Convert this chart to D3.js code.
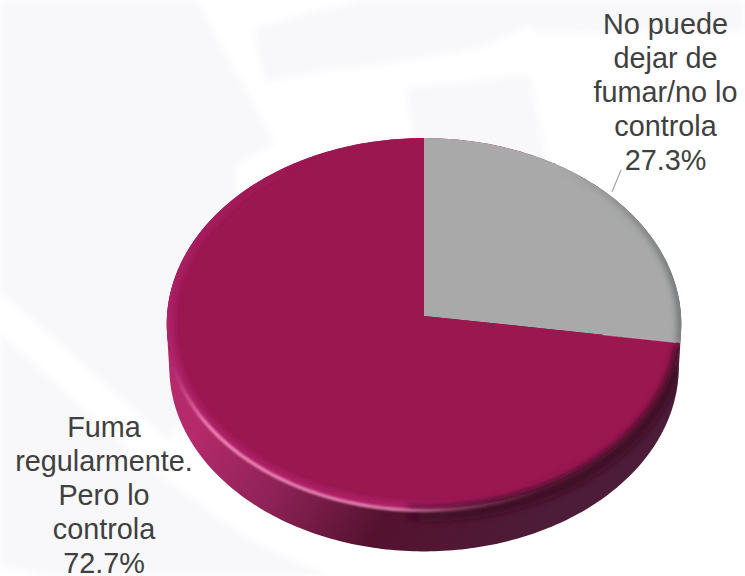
<!DOCTYPE html>
<html><head><meta charset="utf-8">
<script src="https://cdnjs.cloudflare.com/ajax/libs/d3/7.8.5/d3.min.js"></script>
<style>html,body{margin:0;padding:0;background:#fff;overflow:hidden}svg{display:block}</style>
</head><body>
<svg id="c" width="745" height="576"></svg>
<script>
const categories = ["No puede dejar de fumar/no lo controla", "Fuma regularmente. Pero lo controla"];
const values = [27.3, 72.7];
const labelLines = [
  ["No puede", "dejar de", "fumar/no lo", "controla", "27.3%"],
  ["Fuma", "regularmente.", "Pero lo", "controla", "72.7%"]
];
const colors = ["#a9a9a9", "#9a1750"];

const svg = d3.select("#c");
const defs = svg.append("defs");
const blur = (id, s) => defs.append("filter").attr("id", id)
  .attr("filterUnits", "userSpaceOnUse").attr("x", -20).attr("y", -20).attr("width", 785).attr("height", 616)
  .append("feGaussianBlur").attr("stdDeviation", s);
blur("b1", 1.2); blur("b3", 3);

const grad = (id, [x1, y1, x2, y2], stops) => {
  const g = defs.append("linearGradient").attr("id", id).attr("gradientUnits", "userSpaceOnUse")
    .attr("x1", x1).attr("y1", y1).attr("x2", x2).attr("y2", y2);
  stops.forEach(([o, c, a]) => g.append("stop").attr("offset", o).attr("stop-color", c).attr("stop-opacity", a ?? 1));
};
grad("side", [230, 380, 520, 560], [[0, "#b42a6a"], [.28, "#8f2258"], [.6, "#54122f"], [1, "#4d1c38"]]);
grad("hi", [172, 0, 540, 0], [[0, "#f58abb", 0], [.1, "#f58abb", 1], [.6, "#f090bd", .9], [.78, "#e07aa8", .35], [1, "#e07aa8", 0]]);
grad("dark", [400, 0, 560, 0], [[0, "#3f0a26", .55], [.55, "#3f0a26", 1], [1, "#3f0a26", 1]]);
grad("leftRim", [380, 200, 230, 400], [[0, "#b0226a", 0], [1, "#b0226a", 1]]);
grad("grayRim", [560, 0, 680, 0], [[0, "#6f7474", 0], [1, "#6f7474", 1]]);

// pale background shapes
const bgShapes = [
  [[0,0],[197,0],[275,143],[237,165],[238,300],[170,442],[10,300],[0,296]],
  [[0,332],[140,460],[250,540],[330,576],[50,576],[0,566]],
  [[253,28],[300,15],[365,0],[745,0],[745,32],[540,33],[528,27],[480,48],[380,65],[340,68],[265,82]],
  [[405,88],[530,75],[548,165],[415,145]]
];
svg.append("g").selectAll("polygon").data(bgShapes).join("polygon")
  .attr("points", d => d.join(" ")).attr("fill", "#f8f8fa").attr("filter", "url(#b3)");

// perspective projection of the disc
const cx = 424, cy = 316, R = 257, S = 185.6, k = 0.043, depth = 42;
const proj = (a, r = 1, dy = 0) => {
  const u = r * Math.sin(a), v = r * Math.cos(a), w = 1 + k * v;
  return [cx + R * u / w, cy + dy - S * v / w];
};
const line = d3.line();
const sample = (a0, a1, r = 1, dy = 0) => {
  const n = Math.max(2, Math.ceil(Math.abs(a1 - a0) * 60));
  return d3.range(n + 1).map(i => proj(a0 + (a1 - a0) * i / n, r, dy));
};
const TAU = 2 * Math.PI;
const full = sample(0, TAU);
const slices = d3.pie().sort(null).value(d => d)(values);
const slicePath = d => line([[cx, cy], ...sample(d.startAngle, d.endAngle)]) + "Z";

// extruded side
const hull = d3.polygonHull([...full, ...sample(0, TAU, .99, depth + 1.5)]);
svg.append("path").attr("d", line(hull) + "Z").attr("fill", "url(#side)");
defs.append("clipPath").attr("id", "hullClip").append("path").attr("d", line(hull) + "Z");

// dark band under the right half of the face edge
svg.append("g").attr("clip-path", "url(#hullClip)").append("path")
  .attr("d", line(sample(Math.PI * .58, Math.PI * 1.02, 1, 6)))
  .attr("fill", "none").attr("stroke", "url(#dark)").attr("stroke-width", 12).attr("filter", "url(#b3)");

// faces
svg.append("g").selectAll("path.slice").data(slices).join("path").attr("class", "slice")
  .attr("d", slicePath).attr("fill", (d, i) => colors[i]);

// rim shading clipped to each slice
slices.forEach((d, i) => {
  const id = "sl" + i;
  defs.append("clipPath").attr("id", id).append("path").attr("d", slicePath(d));
  const g = svg.append("g").attr("clip-path", `url(#${id})`);
  g.append("path").attr("d", line(sample(d.startAngle, d.endAngle)))
    .attr("fill", "none").attr("stroke", i === 0 ? "url(#grayRim)" : "url(#leftRim)")
    .attr("stroke-width", i === 0 ? 8 : 14).attr("filter", "url(#b3)");
  if (i === 1) {
    g.append("path").attr("d", line(sample(Math.PI * .55, Math.PI * 1.02)))
      .attr("fill", "none").attr("stroke", "url(#dark)").attr("stroke-width", 9).attr("filter", "url(#b3)");
  }
});

// highlight along the lower-left edge
svg.append("path").attr("d", line(sample(Math.PI * .85, Math.PI * 1.5, .998, 1)))
  .attr("fill", "none").attr("stroke", "url(#hi)").attr("stroke-width", 3.2).attr("filter", "url(#b1)");

// light seam between the slices on the right
svg.append("path").attr("d", line([proj(slices[0].endAngle, .7), proj(slices[0].endAngle, .985)]))
  .attr("fill", "none").attr("stroke", "#d8c4cc").attr("stroke-width", 1).attr("opacity", .6);

// leader line
svg.append("line").attr("x1", 612).attr("y1", 192).attr("x2", 621).attr("y2", 170)
  .attr("stroke", "#a6a6a6").attr("stroke-width", 1.2);

// labels
const labelPos = [{x: 665.5, y: 34}, {x: 104, y: 437}];
const lineH = 34;
const lab = svg.append("g").attr("font-family", "'Liberation Sans', Arial, sans-serif")
  .attr("font-size", 28.8).attr("fill", "#404040").attr("text-anchor", "middle");
labelLines.forEach((lines, i) => {
  lab.append("text").selectAll("tspan").data(lines).join("tspan")
    .attr("x", labelPos[i].x).attr("y", (d, j) => labelPos[i].y + j * lineH).text(d => d);
});
</script>
</body></html>
